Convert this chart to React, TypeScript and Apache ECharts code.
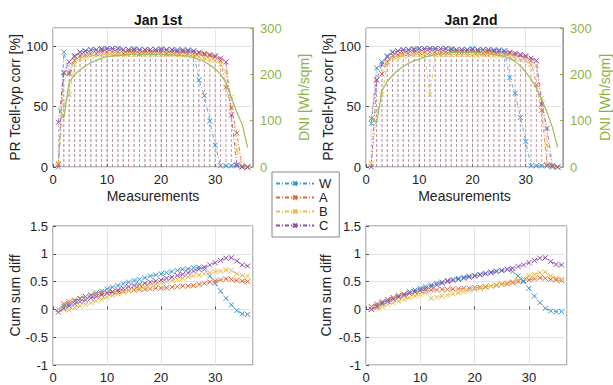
import React, { useEffect, useRef } from "react";
import * as echarts from "echarts";

// ---------- data ----------
const measurements = [
  1, 2, 3, 4, 5, 6, 7, 8, 9, 10, 11, 12, 13, 14, 15, 16, 17, 18,
  19, 20, 21, 22, 23, 24, 25, 26, 27, 28, 29, 30, 31, 32, 33, 34, 35, 36,
];
const seriesNames = ["W", "A", "B", "C"];
const titles = ["Jan 1st", "Jan 2nd"];
const xTickLabels = ["0", "10", "20", "30"];

const prJan1W = [0, 95, 78, 91, 95, 96, 97, 97, 98, 98, 98, 98, 97, 97, 98, 97, 97, 97, 97, 98, 97, 97, 97, 97, 97, 96, 72, 59, 38, 18, 1, 1, 1, 1, 0, 0];
const prJan1A = [2, 78, 77, 88, 92, 93, 94, 94, 95, 95, 95, 95, 94, 95, 95, 94, 95, 95, 95, 95, 94, 95, 95, 95, 94, 94, 94, 93, 92, 91, 88, 66, 49, 28, 1, 0];
const prJan1B = [3, 52, 60, 85, 90, 91, 92, 92, 93, 93, 93, 93, 92, 93, 93, 93, 93, 92, 93, 93, 93, 93, 92, 93, 92, 92, 91, 90, 89, 88, 85, 79, 58, 14, 1, 0];
const prJan1C = [37, 78, 87, 92, 95, 96, 97, 97, 97, 98, 98, 98, 97, 97, 97, 97, 97, 97, 97, 97, 97, 97, 96, 96, 96, 96, 95, 94, 93, 92, 90, 87, 43, 2, 0, 0];
const dniJan1 = [128, 106, 183, 199, 210, 218, 225, 230, 235, 238, 240, 241, 242, 243, 243, 243, 243, 243, 243, 243, 242, 242, 241, 240, 239, 236, 232, 227, 220, 212, 200, 182, 150, 118, 92, 42];

const prJan2W = [36, 82, 87, 92, 95, 96, 97, 97, 98, 98, 98, 98, 98, 98, 98, 97, 97, 97, 97, 98, 97, 97, 97, 97, 97, 96, 74, 61, 41, 21, 1, 1, 1, 1, 0, 0];
const prJan2A = [40, 72, 77, 87, 92, 93, 94, 94, 95, 95, 95, 95, 95, 95, 95, 95, 95, 95, 95, 95, 95, 94, 95, 95, 94, 94, 94, 93, 92, 91, 88, 68, 47, 2, 1, 0];
const prJan2B = [3, 46, 60, 86, 90, 91, 92, 92, 93, 93, 93, 60, 93, 93, 93, 93, 93, 93, 93, 93, 92, 93, 93, 92, 92, 92, 91, 90, 89, 88, 85, 84, 57, 18, 1, 0];
const prJan2C = [0, 72, 85, 91, 95, 96, 97, 97, 97, 98, 98, 98, 98, 98, 98, 98, 97, 97, 97, 97, 97, 97, 97, 96, 96, 96, 95, 94, 93, 92, 90, 88, 52, 32, 1, 0];
const dniJan2 = [108, 95, 165, 185, 198, 209, 217, 224, 229, 233, 237, 240, 243, 245, 246, 247, 248, 248, 248, 248, 247, 246, 245, 243, 241, 238, 234, 228, 218, 205, 190, 170, 145, 118, 86, 43];

const cumJan1W = [0, 0.06, 0.1, 0.15, 0.19, 0.23, 0.26, 0.3, 0.33, 0.37, 0.4, 0.43, 0.46, 0.49, 0.52, 0.54, 0.57, 0.6, 0.62, 0.64, 0.66, 0.68, 0.7, 0.72, 0.73, 0.75, 0.76, 0.72, 0.6, 0.47, 0.33, 0.2, 0.08, -0.02, -0.08, -0.09];
const cumJan1A = [0, 0.1, 0.14, 0.17, 0.2, 0.23, 0.25, 0.27, 0.29, 0.3, 0.31, 0.32, 0.33, 0.34, 0.35, 0.36, 0.36, 0.37, 0.38, 0.38, 0.39, 0.4, 0.41, 0.42, 0.42, 0.43, 0.45, 0.47, 0.49, 0.51, 0.53, 0.55, 0.54, 0.52, 0.51, 0.5];
const cumJan1B = [0, 0, -0.01, 0.03, 0.06, 0.09, 0.12, 0.15, 0.18, 0.22, 0.25, 0.28, 0.31, 0.34, 0.36, 0.39, 0.41, 0.44, 0.46, 0.48, 0.5, 0.52, 0.54, 0.56, 0.58, 0.6, 0.62, 0.64, 0.66, 0.68, 0.69, 0.71, 0.7, 0.64, 0.61, 0.6];
const cumJan1C = [-0.05, 0.02, 0.06, 0.1, 0.14, 0.17, 0.2, 0.23, 0.26, 0.29, 0.32, 0.35, 0.38, 0.41, 0.43, 0.45, 0.47, 0.49, 0.51, 0.53, 0.56, 0.58, 0.61, 0.63, 0.66, 0.69, 0.72, 0.76, 0.8, 0.84, 0.88, 0.92, 0.93, 0.87, 0.8, 0.78];

const cumJan2W = [0, 0.07, 0.12, 0.17, 0.21, 0.25, 0.28, 0.32, 0.35, 0.38, 0.41, 0.44, 0.47, 0.49, 0.52, 0.54, 0.56, 0.58, 0.6, 0.61, 0.63, 0.65, 0.67, 0.69, 0.7, 0.72, 0.68, 0.6, 0.5, 0.38, 0.24, 0.12, 0.02, -0.03, -0.04, -0.04];
const cumJan2A = [0.05, 0.1, 0.14, 0.18, 0.21, 0.24, 0.27, 0.29, 0.31, 0.33, 0.34, 0.35, 0.35, 0.36, 0.36, 0.37, 0.37, 0.38, 0.38, 0.39, 0.4, 0.41, 0.42, 0.43, 0.45, 0.46, 0.48, 0.5, 0.52, 0.53, 0.55, 0.57, 0.56, 0.54, 0.53, 0.52];
const cumJan2B = [0, 0.02, 0.05, 0.09, 0.12, 0.15, 0.18, 0.21, 0.24, 0.27, 0.3, 0.2, 0.22, 0.24, 0.26, 0.28, 0.3, 0.32, 0.34, 0.36, 0.38, 0.4, 0.42, 0.44, 0.46, 0.48, 0.5, 0.53, 0.56, 0.6, 0.63, 0.66, 0.67, 0.6, 0.56, 0.55];
const cumJan2C = [0, 0.05, 0.1, 0.14, 0.18, 0.22, 0.25, 0.29, 0.32, 0.35, 0.38, 0.41, 0.44, 0.47, 0.5, 0.52, 0.54, 0.56, 0.58, 0.6, 0.62, 0.64, 0.66, 0.68, 0.7, 0.72, 0.74, 0.77, 0.8, 0.84, 0.88, 0.92, 0.93, 0.86, 0.81, 0.8];

// ---------- styles ----------
const FONT = '"Liberation Sans", Arial, Helvetica, sans-serif';
const COLORS: Record<string, string> = { W: "#3a97d4", A: "#e0693b", B: "#eeb93f", C: "#8e4ea8" };
const STEM_OPACITY: Record<string, number> = { W: 0.3, A: 0.25, B: 0.25, C: 0.45 };
const DNI_COLOR = "#98bd5a";
const DNI_AXIS = "#8db33f";
const X_SYMBOL = "path://M0,0L10,10M10,0L0,10";
const DASH_DOT = [4, 2, 1, 2];

const grids = [
  { left: 53, top: 28, width: 200, height: 139 },
  { left: 366, top: 28, width: 201, height: 139 },
  { left: 53, top: 226, width: 200, height: 139 },
  { left: 366, top: 226, width: 201, height: 139 },
];

function markerSeries(name: string, values: number[], xi: number, yi: number) {
  const color = COLORS[name];
  return {
    type: "line",
    name,
    xAxisIndex: xi,
    yAxisIndex: yi,
    data: measurements.map((m, i) => [m, values[i]]),
    symbol: X_SYMBOL,
    symbolSize: 5,
    showSymbol: true,
    lineStyle: { color, width: 0.8, type: DASH_DOT },
    itemStyle: { color, borderColor: color, borderWidth: 1 },
    z: 3,
  };
}

function stemSeries(name: string, values: number[], xi: number, yi: number) {
  const color = COLORS[name];
  const data: any[] = [];
  measurements.forEach((m, i) => {
    data.push([m, 0], [m, values[i]], [m, "-"]);
  });
  return {
    type: "line",
    name: name + " stem",
    xAxisIndex: xi,
    yAxisIndex: yi,
    data,
    symbol: "none",
    silent: true,
    connectNulls: false,
    lineStyle: { color, width: 0.9, type: [3, 2], opacity: STEM_OPACITY[name] },
    z: 2,
  };
}

function xAxis(gridIndex: number, withName: boolean) {
  return {
    type: "value",
    gridIndex,
    min: 0,
    max: 37,
    interval: 10,
    axisLine: { show: false },
    axisTick: { show: true, inside: true, length: 3, lineStyle: { color: "#555" } },
    axisLabel: {
      margin: 6,
      fontSize: 13,
      fontFamily: FONT,
      color: "#222",
      showMaxLabel: false,
      formatter: (v: number) => xTickLabels[v / 10] ?? "",
    },
    splitLine: { show: true, lineStyle: { color: "#e4e4e4" } },
    name: withName ? "Measurements" : "",
    nameLocation: "middle",
    nameGap: 22,
    nameTextStyle: { fontSize: 14, fontFamily: FONT, color: "#222" },
  };
}

function leftYAxis(gridIndex: number, min: number, max: number, interval: number, name: string, nameGap: number) {
  return {
    type: "value",
    gridIndex,
    position: "left",
    min,
    max,
    interval,
    axisLine: { show: false },
    axisTick: { show: true, inside: true, length: 3, lineStyle: { color: "#555" } },
    axisLabel: {
      margin: 5,
      fontSize: 13,
      fontFamily: FONT,
      color: "#222",
      showMaxLabel: max % interval === 0,
      formatter: (v: number) => String(v),
    },
    splitLine: { show: true, lineStyle: { color: "#e4e4e4" } },
    name,
    nameLocation: "middle",
    nameRotate: 90,
    nameGap,
    nameTextStyle: { fontSize: 14, fontFamily: FONT, color: "#222" },
  };
}

function rightYAxis(gridIndex: number, nameGap: number) {
  return {
    type: "value",
    gridIndex,
    position: "right",
    min: 0,
    max: 300,
    interval: 100,
    axisLine: { show: true, lineStyle: { color: DNI_AXIS, width: 1 } },
    axisTick: { show: true, inside: true, length: 3, lineStyle: { color: DNI_AXIS } },
    axisLabel: { margin: 7, fontSize: 13, fontFamily: FONT, color: DNI_AXIS },
    splitLine: { show: false },
    name: "DNI [Wh/sqm]",
    nameLocation: "middle",
    nameRotate: 90,
    nameGap,
    nameTextStyle: { fontSize: 14, fontFamily: FONT, color: DNI_AXIS },
  };
}

export default function App() {
  const ref = useRef<HTMLDivElement>(null);

  useEffect(() => {
    document.body.style.margin = "0";
    if (!ref.current) return;
    const chart = echarts.init(ref.current, undefined, { renderer: "svg" });

    const prJan1: Record<string, number[]> = { W: prJan1W, A: prJan1A, B: prJan1B, C: prJan1C };
    const prJan2: Record<string, number[]> = { W: prJan2W, A: prJan2A, B: prJan2B, C: prJan2C };
    const cumJan1: Record<string, number[]> = { W: cumJan1W, A: cumJan1A, B: cumJan1B, C: cumJan1C };
    const cumJan2: Record<string, number[]> = { W: cumJan2W, A: cumJan2A, B: cumJan2B, C: cumJan2C };

    const series: any[] = [];
    seriesNames.forEach((n) => series.push(markerSeries(n, prJan1[n], 0, 0)));
    seriesNames.forEach((n) => series.push(stemSeries(n, prJan1[n], 0, 0)));
    series.push({
      type: "line",
      name: "DNI Jan 1",
      xAxisIndex: 0,
      yAxisIndex: 1,
      data: measurements.map((m, i) => [m, dniJan1[i]]),
      symbol: "none",
      lineStyle: { color: DNI_COLOR, width: 1.2 },
      z: 4,
    });
    seriesNames.forEach((n) => series.push(markerSeries(n, prJan2[n], 1, 2)));
    seriesNames.forEach((n) => series.push(stemSeries(n, prJan2[n], 1, 2)));
    series.push({
      type: "line",
      name: "DNI Jan 2",
      xAxisIndex: 1,
      yAxisIndex: 3,
      data: measurements.map((m, i) => [m, dniJan2[i]]),
      symbol: "none",
      lineStyle: { color: DNI_COLOR, width: 1.2 },
      z: 4,
    });
    seriesNames.forEach((n) => series.push(markerSeries(n, cumJan1[n], 2, 4)));
    seriesNames.forEach((n) => series.push(markerSeries(n, cumJan2[n], 3, 5)));

    chart.setOption({
      animation: false,
      backgroundColor: "#ffffff",
      textStyle: { fontFamily: FONT },
      title: [
        { text: titles[0], left: 153, top: 8, textAlign: "center", textStyle: { fontSize: 14, fontWeight: "bold", fontFamily: FONT, color: "#111" } },
        { text: titles[1], left: 466, top: 8, textAlign: "center", textStyle: { fontSize: 14, fontWeight: "bold", fontFamily: FONT, color: "#111" } },
      ],
      legend: {
        data: seriesNames,
        orient: "vertical",
        left: 272,
        top: 172,
        itemWidth: 38,
        itemHeight: 5,
        itemGap: 1,
        padding: [5, 8, 5, 3],
        borderColor: "#888",
        borderWidth: 1,
        backgroundColor: "#fff",
        textStyle: { fontSize: 13, lineHeight: 13, fontFamily: FONT, color: "#222" },
        selectedMode: false,
      },
      grid: grids.map((g) => ({ ...g, show: true, borderColor: "#777", borderWidth: 1, backgroundColor: "transparent", containLabel: false })),
      xAxis: [xAxis(0, true), xAxis(1, true), xAxis(2, false), xAxis(3, false)],
      yAxis: [
        leftYAxis(0, 0, 115, 50, "PR Tcell-typ corr [%]", 29),
        rightYAxis(0, 44),
        leftYAxis(1, 0, 115, 50, "PR Tcell-typ corr [%]", 28),
        rightYAxis(1, 35),
        leftYAxis(2, -1, 1.5, 0.5, "Cum sum diff", 31),
        leftYAxis(3, -1, 1.5, 0.5, "Cum sum diff", 33),
      ],
      series,
    });

    return () => chart.dispose();
  }, []);

  return <div ref={ref} style={{ width: 613, height: 385 }} />;
}
